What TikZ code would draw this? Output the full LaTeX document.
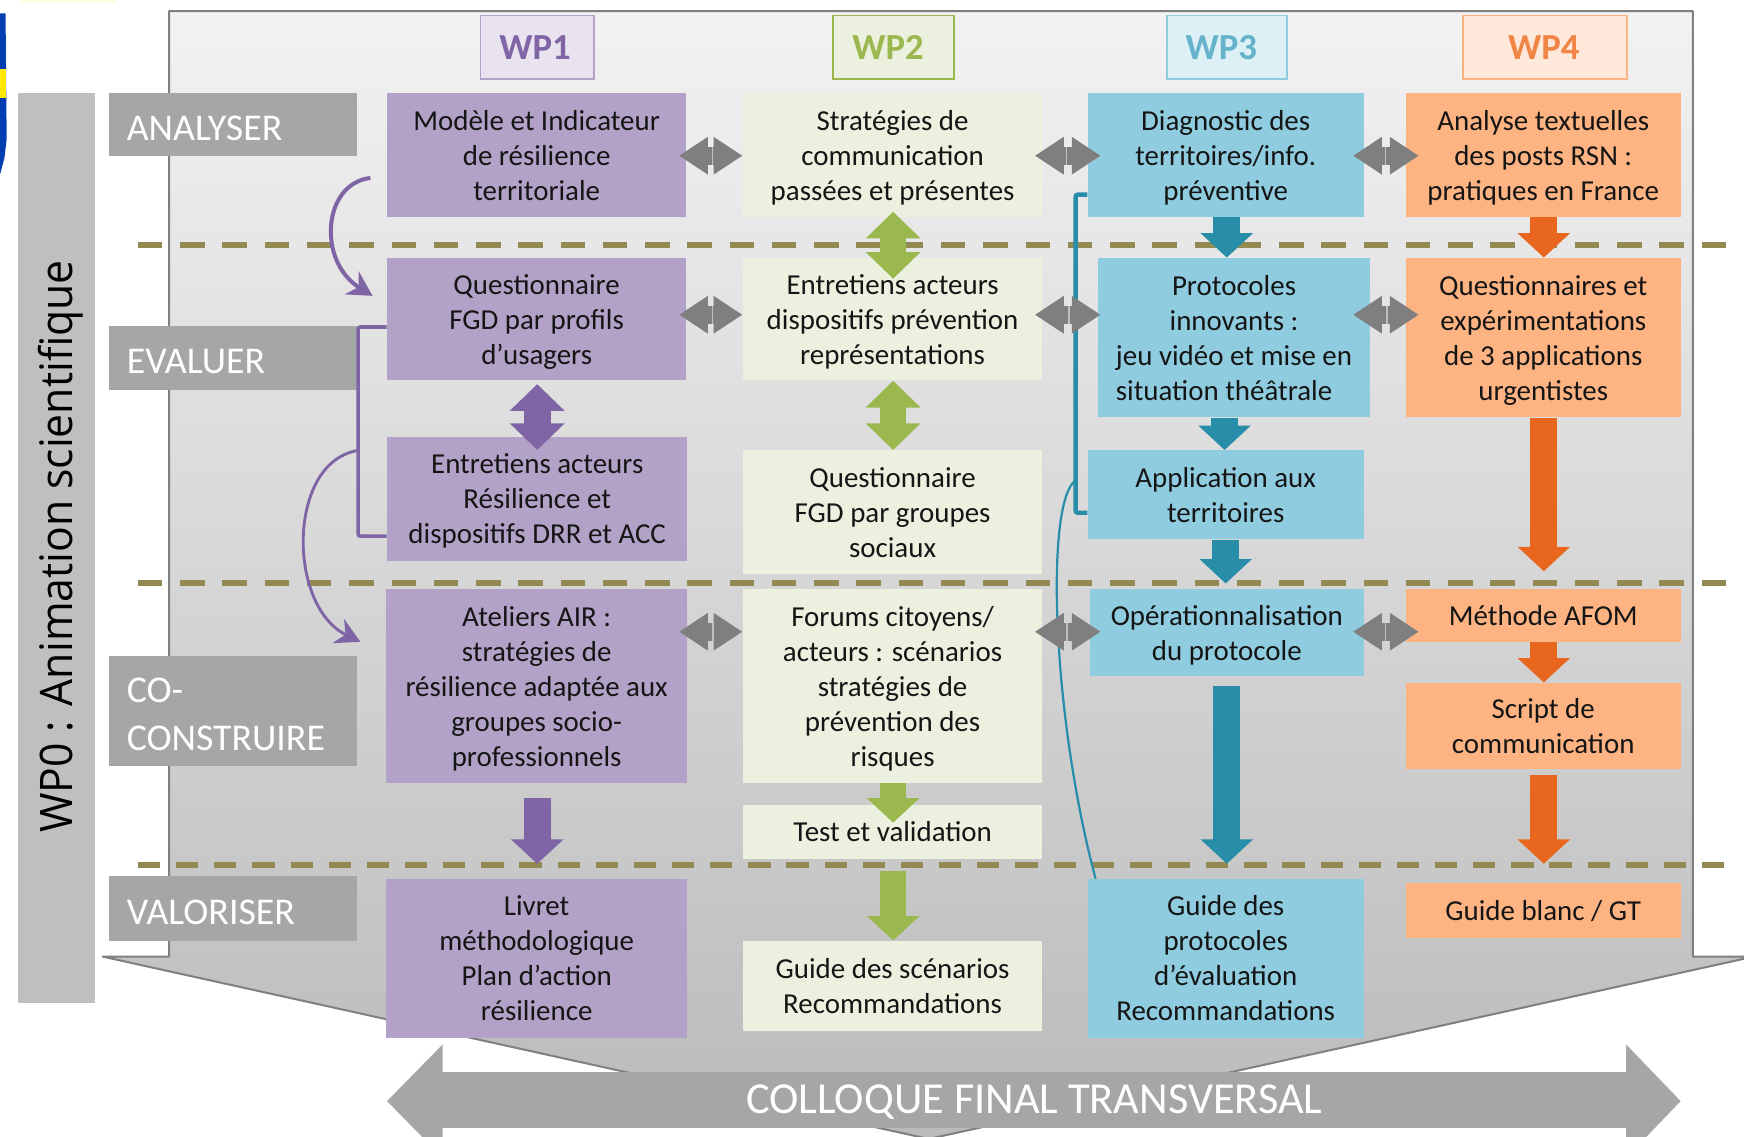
\documentclass[tikz,border=0pt]{standalone}
\usepackage{fontspec}
\usepackage{graphicx}
\setmainfont{Carlito}
\newfontfamily\opensans{Open Sans}
\usetikzlibrary{arrows.meta,calc}
\definecolor{cPurple}{HTML}{B3A2C7}
\definecolor{cGreen}{HTML}{EBF1DE}
\definecolor{cBlue}{HTML}{8FCCE0}
\definecolor{cOrange}{HTML}{FDB382}
\definecolor{aPurple}{HTML}{7F65A6}
\definecolor{aGreen}{HTML}{9BB84F}
\definecolor{aBlue}{HTML}{278DA8}
\definecolor{aOrange}{HTML}{E8661E}
\definecolor{aGray}{HTML}{7F7F7F}
\definecolor{lGray}{HTML}{A5A7A7}
\definecolor{dashC}{HTML}{938953}
\definecolor{txt}{HTML}{151515}
\tikzset{
  boxtext/.style={font=\fontsize{13}{15.75}\selectfont,text=txt,align=center,inner sep=0pt},
  pbox/.style={boxtext,fill=cPurple},
  gbox/.style={boxtext,fill=cGreen},
  bbox/.style={boxtext,fill=cBlue},
  obox/.style={boxtext,fill=cOrange},
  wphead/.style={font=\fontsize{16.5}{18}\selectfont\bfseries,line width=.8pt,inner sep=0pt},
  rowlab/.style={fill=lGray,text=white,font=\fontsize{17}{21.5}\selectfont,align=left,inner ysep=0pt,inner xsep=8pt},
  vsingle/.style={line width=12pt,-{Triangle[length=11pt,width=23pt]}},
  vdouble/.style={line width=12pt,{Triangle[length=12pt,width=24pt]}-{Triangle[length=12pt,width=24pt]}},
  hdouble/.style={aGray,line width=8pt,{Triangle[length=13pt,width=16pt]}-{Triangle[length=13pt,width=16pt]}},
  stagedash/.style={dashC,line width=2.6pt,dash pattern=on 11pt off 8pt},
  curvethick/.style={aPurple,line width=1.5pt,-{Stealth[length=11pt,width=12pt]}},
}
\newcommand{\wpbox}[7]{%
  \pgfmathsetmacro\bx{(#2+#4)/2}\pgfmathsetmacro\by{(#3+#5)/2}%
  \pgfmathsetmacro\bw{(#4-#2)*.5}\pgfmathsetmacro\bh{(#5-#3)*.5}%
  \node[#6,minimum width=\bw pt,minimum height=\bh pt] (#1) at (\bx,\by) {\rule{0pt}{12pt}#7\rule[-3pt]{0pt}{1pt}};}
\newcommand{\rowbox}[6]{%
  \pgfmathsetmacro\bx{(#2+#4)/2}\pgfmathsetmacro\by{(#3+#5)/2}%
  \pgfmathsetmacro\bw{(#4-#2)*.5-16}\pgfmathsetmacro\bh{(#5-#3)*.5}%
  \node[rowlab,text width=\bw pt,minimum height=\bh pt] (#1) at (\bx,\by) {\rule{0pt}{14pt}#6};}
% horizontal double arrow with seam: a, b, y, shorten<, shorten>
\newcommand{\harrow}[5]{%
  \draw[hdouble,shorten <=#4pt,shorten >=#5pt] (#1.east |- 0,#3) -- (#2.west |- 0,#3);
  \coordinate (seamA) at ($(#1.east |- 0,#3)!.5!(#2.west |- 0,#3)+(#4*.5-#5*.5,-8)$);
  \coordinate (seamB) at ($(#1.east |- 0,#3)!.5!(#2.west |- 0,#3)+(#4*.5-#5*.5,8)$);
  \draw[white!50!aGray,line width=.6pt] (seamA) -- (seamB);}
% vertical arrow: style, x, a, b, shorten<, shorten>
\newcommand{\varrow}[6]{%
  \draw[#1,shorten <=#5pt,shorten >=#6pt] (#2,0 |- #3.south) -- (#2,0 |- #4.north);}
\begin{document}
\begin{tikzpicture}[x=.5pt,y=-.5pt]
\useasboundingbox (0,0) rectangle (1568,1022.2);
\fill[white] (0,0) rectangle (1568,1022.2);
% logo fragment
\fill[yellow!12!white] (20,0) rectangle (105,3);
\fill[blue!65!cyan!70!black] (0,12) -- (5,12) -- (6,125) -- (4,142) -- (0,157) -- cycle;
\fill[yellow!90!orange] (0,62) rectangle (5,88);
% panel and funnel
\draw[draw=gray,line width=.9pt,line join=bevel,top color=black!5,bottom color=black!27] (152,860) -- (152,10) -- (1522,10) -- (1522,860) -- (1568,860) -- (1568,862) -- (835,1024) -- (92,860) -- cycle;
% WP0
\node[fill=black!25,minimum width=34.5pt,minimum height=409pt,inner sep=0pt] (wp0) at (50.5,493) {};
\node[rotate=90,inner sep=0pt,font=\opensans\fontsize{19.2}{21}\selectfont] (wp0t) at (55,491.5) {\scalebox{1}[1.05]{WP0 : Animation scientifique}};
% stage dashes
\coordinate (d1a) at (124,220.5); \coordinate (d1b) at (1552,220.5);
\coordinate (d2a) at (124,524.5); \coordinate (d2b) at (1552,524.5);
\coordinate (d3a) at (124,777.5); \coordinate (d3b) at (1552,777.5);
\draw[stagedash] (d1a) -- (d1b);
\draw[stagedash] (d2a) -- (d2b);
\draw[stagedash,dash pattern=on 10pt off 7.15pt] (d3a) -- (d3b);
% colloque arrow
\fill[lGray] (348,990) -- (398,939) -- (398,964) -- (1462,964) -- (1462,939) -- (1511,990) -- (1462,1041) -- (1462,1014) -- (398,1014) -- (398,1041) -- cycle;
\node[inner sep=0pt,text=white,font=\fontsize{19.9}{21}\selectfont] (colloque) at (930,991) {COLLOQUE FINAL TRANSVERSAL};
% headers
\wpbox{wp1}{432}{14}{534}{71}{wphead,fill=cPurple!30!white,draw=cPurple,text=aPurple}{\raisebox{-1pt}{WP1\kern2pt}}
\wpbox{wp2}{749}{14}{858}{71}{wphead,fill=cGreen,draw=aGreen,text=aGreen}{\raisebox{-1pt}{WP2\kern5pt}}
\wpbox{wp3}{1049}{14}{1157}{71}{wphead,fill=cBlue!30!white,draw=cBlue,text=cBlue!60!aBlue}{\raisebox{-1pt}{WP3\kern5pt}}
\wpbox{wp4}{1315}{14}{1463}{71}{wphead,fill=cOrange!30!white,draw=cOrange,text=aOrange!60!cOrange}{\raisebox{-1pt}{WP4\kern1pt}}
% row labels
\rowbox{r1}{98}{84}{321}{140}{ANALYSER}
\rowbox{r2}{98}{293}{321}{351}{EVALUER}
\rowbox{r3}{98}{590}{321}{689}{CO-\\CONSTRUIRE}
\rowbox{r4}{98}{788}{321}{846}{VALORISER}
% boxes
\wpbox{a1}{348}{84}{617}{195}{pbox}{Modèle et Indicateur\\de résilience\\territoriale}
\wpbox{a2}{668}{84}{937}{195}{gbox}{Stratégies de\\communication\\passées et présentes}
\wpbox{a3}{978}{84}{1226}{195}{bbox}{Diagnostic des\\territoires/info.\\préventive}
\wpbox{a4}{1264}{84}{1511}{195}{obox}{Analyse textuelles\\des posts RSN :\\pratiques en France}
\wpbox{b1}{348}{232}{617}{342}{pbox}{Questionnaire\\FGD par profils\\d’usagers}
\wpbox{b2}{668}{232}{937}{342}{gbox}{Entretiens acteurs\\dispositifs prévention\\représentations}
\wpbox{b3}{987}{232}{1232}{375}{bbox}{Protocoles\\innovants :\\jeu vidéo et mise en\\\hbox{situation théâtrale\kern9pt}}
\wpbox{b4}{1264}{232}{1511}{375}{obox}{Questionnaires et\\expérimentations\\de 3 applications\\urgentistes}
\wpbox{c1}{348}{393}{618}{504}{pbox}{Entretiens acteurs\\Résilience et\\dispositifs DRR et ACC}
\wpbox{c2}{668}{405}{937}{516}{gbox}{Questionnaire\\FGD par groupes\\sociaux}
\wpbox{c3}{978}{405}{1226}{485}{bbox}{Application aux\\territoires}
\wpbox{d1}{347}{530}{618}{704}{pbox}{Ateliers AIR :\\stratégies de\\résilience adaptée aux\\groupes socio-\\professionnels}
\wpbox{d2}{668}{530}{937}{704}{gbox}{Forums citoyens/\\acteurs : scénarios\\stratégies de\\prévention des\\risques}
\wpbox{d3}{980}{530}{1226}{608}{bbox}{Opérationnalisation\\du protocole}
\wpbox{d4}{1264}{530}{1511}{577}{obox}{Méthode AFOM}
\wpbox{e4}{1264}{614}{1511}{691}{obox}{Script de\\communication}
\wpbox{t2}{668}{724}{937}{772}{gbox}{Test et validation}
\wpbox{f1}{347}{790}{618}{933}{pbox}{Livret\\méthodologique\\Plan d’action\\résilience}
\wpbox{f2}{668}{846}{937}{927}{gbox}{Guide des scénarios\\Recommandations}
\wpbox{f3}{978}{790}{1226}{933}{bbox}{Guide des\\protocoles\\d’évaluation\\Recommandations}
\wpbox{f4}{1264}{794}{1511}{843}{obox}{Guide blanc / GT}
% curved and bracket connectors
\coordinate (p1) at (333,160); \coordinate (p2) at (335,266);
\coordinate (p3) at (322,405); \coordinate (p4) at (324,577);
\draw[curvethick,line width=1.8pt] (p1) .. controls (290,165) and (285,235) .. (p2);
\draw[aPurple,line width=1.6pt,rounded corners=1pt] (b1.west |- 0,294) -| (322,482) -- (c1.west |- 0,482);
\draw[curvethick,line width=1.3pt] (p3) .. controls (258,415) and (258,545) .. (p4);
\draw[aBlue,line width=2pt,rounded corners=1pt] (a3.west |- 0,175) -| (967,461) -- (c3.west |- 0,461);
\coordinate (p5) at (967,432); \coordinate (p6) at (985,790);
\draw[aBlue,line width=1pt] (p5) .. controls (940,450) and (945,640) .. (p6);
% gray double arrows
\harrow{a1}{a2}{140}{-3.5}{0}
\harrow{a2}{a3}{140}{-3.5}{-6}
\harrow{a3}{a4}{140}{-5}{-6}
\harrow{b1}{b2}{283}{-3.5}{0}
\harrow{b2}{b3}{283}{-3.5}{-1.5}
\harrow{b3}{b4}{283}{-8}{-6}
\harrow{d1}{d2}{568}{-4}{0}
\harrow{d2}{d3}{568}{-3.5}{-5}
\harrow{d3}{d4}{568}{-5}{-6}
% vertical arrows
\varrow{vdouble,aPurple}{483}{b1}{c1}{1.5}{-6}
\varrow{vdouble,aGreen}{803}{a2}{b2}{-2.5}{-9.5}
\varrow{vdouble,aGreen}{803}{b2}{c2}{0}{0}
\varrow{vsingle,aBlue}{1103}{a3}{b3}{0}{0}
\varrow{vsingle,aBlue}{1101}{b3}{c3}{0}{0}
\varrow{vsingle,aBlue}{1102}{c3}{d3}{0}{2.5}
\varrow{vsingle,aBlue}{1103}{d3}{f3}{4}{6.5}
\varrow{vsingle,aOrange}{1388}{a4}{b4}{0}{0}
\varrow{vsingle,aOrange}{1388}{b4}{d4}{0}{8}
\varrow{vsingle,aOrange}{1388}{d4}{e4}{0}{0}
\varrow{vsingle,aOrange}{1388}{e4}{f4}{2.5}{8.5}
\varrow{vsingle,aPurple}{483}{d1}{f1}{6.5}{6.5}
\varrow{vsingle,aGreen}{803}{d2}{t2}{0}{-8}
\varrow{vsingle,aGreen}{803}{t2}{f2}{5.5}{0}
\end{tikzpicture}
\end{document}
